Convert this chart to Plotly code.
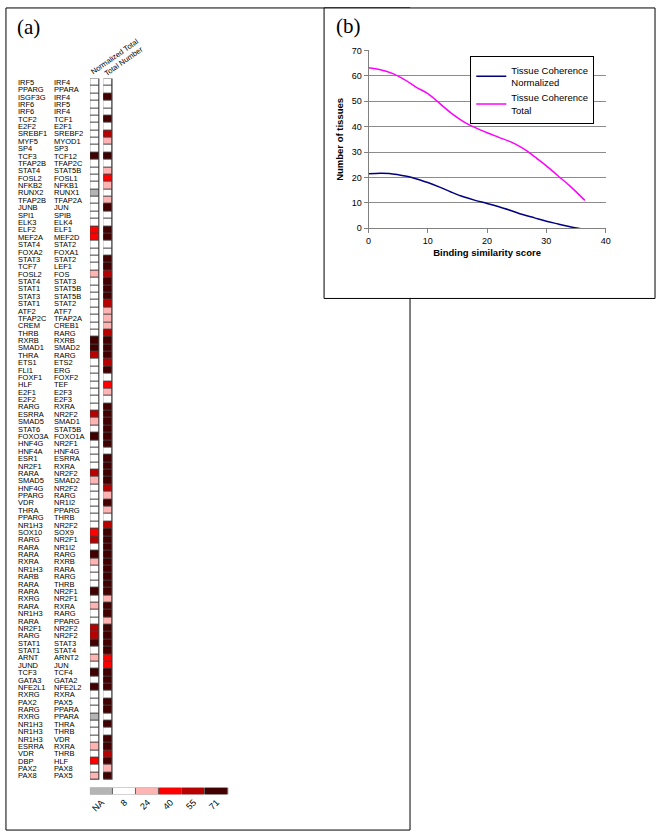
import plotly.graph_objects as go

W, H = 662, 839

# pairs of transcription factors, one row each
tf_first = ["IRF5", "PPARG", "ISGF3G", "IRF6", "IRF6", "TCF2", "E2F2", "SREBF1", "MYF5", "SP4",
            "TCF3", "TFAP2B", "STAT4", "FOSL2", "NFKB2", "RUNX2", "TFAP2B", "JUNB", "SPI1", "ELK3",
            "ELF2", "MEF2A", "STAT4", "FOXA2", "STAT3", "TCF7", "FOSL2", "STAT4", "STAT1", "STAT3",
            "STAT1", "ATF2", "TFAP2C", "CREM", "THRB", "RXRB", "SMAD1", "THRA", "ETS1", "FLI1",
            "FOXF1", "HLF", "E2F1", "E2F2", "RARG", "ESRRA", "SMAD5", "STAT6", "FOXO3A", "HNF4G",
            "HNF4A", "ESR1", "NR2F1", "RARA", "SMAD5", "HNF4G", "PPARG", "VDR", "THRA", "PPARG",
            "NR1H3", "SOX10", "RARG", "RARA", "RARA", "RXRA", "NR1H3", "RARB", "RARA", "RARA",
            "RXRG", "RARA", "NR1H3", "RARA", "NR2F1", "RARG", "STAT1", "STAT1", "ARNT", "JUND",
            "TCF3", "GATA3", "NFE2L1", "RXRG", "PAX2", "RARG", "RXRG", "NR1H3", "NR1H3", "NR1H3",
            "ESRRA", "VDR", "DBP", "PAX2", "PAX8"]
tf_second = ["IRF4", "PPARA", "IRF4", "IRF5", "IRF4", "TCF1", "E2F1", "SREBF2", "MYOD1", "SP3",
             "TCF12", "TFAP2C", "STAT5B", "FOSL1", "NFKB1", "RUNX1", "TFAP2A", "JUN", "SPIB", "ELK4",
             "ELF1", "MEF2D", "STAT2", "FOXA1", "STAT2", "LEF1", "FOS", "STAT3", "STAT5B", "STAT5B",
             "STAT2", "ATF7", "TFAP2A", "CREB1", "RARG", "RXRB", "SMAD2", "RARG", "ETS2", "ERG",
             "FOXF2", "TEF", "E2F3", "E2F3", "RXRA", "NR2F2", "SMAD1", "STAT5B", "FOXO1A", "NR2F1",
             "HNF4G", "ESRRA", "RXRA", "NR2F2", "SMAD2", "NR2F2", "RARG", "NR1I2", "PPARG", "THRB",
             "NR2F2", "SOX9", "NR2F1", "NR1I2", "RARG", "RXRB", "RARA", "RARG", "THRB", "NR2F1",
             "NR2F1", "RXRA", "RARG", "PPARG", "NR2F2", "NR2F2", "STAT3", "STAT4", "ARNT2", "JUN",
             "TCF4", "GATA2", "NFE2L2", "RXRA", "PAX5", "PPARA", "PPARA", "THRA", "THRB", "VDR",
             "RXRA", "THRB", "HLF", "PAX8", "PAX5"]

# colour class of each cell: 0=NA, 1=8, 2=24, 3=40, 4=55, 5=71
normalized_total = [1, 1, 1, 1, 1, 1, 1, 1, 1, 1,
                    5, 1, 1, 1, 1, 0, 1, 1, 1, 1,
                    3, 3, 1, 1, 1, 1, 2, 1, 1, 1,
                    1, 1, 1, 1, 1, 5, 5, 4, 1, 1,
                    1, 1, 1, 1, 1, 4, 2, 1, 5, 1,
                    1, 1, 1, 4, 2, 1, 1, 1, 1, 1,
                    1, 3, 4, 1, 5, 2, 1, 1, 1, 5,
                    1, 2, 1, 1, 4, 4, 5, 1, 2, 1,
                    5, 1, 5, 1, 1, 1, 0, 1, 1, 1,
                    2, 1, 3, 1, 2]
total_number = [1, 1, 5, 1, 1, 5, 1, 4, 2, 1,
                5, 1, 2, 3, 2, 1, 2, 5, 1, 1,
                5, 5, 1, 1, 5, 5, 4, 5, 5, 5,
                4, 2, 2, 2, 4, 5, 5, 5, 4, 5,
                1, 3, 2, 1, 5, 5, 5, 5, 5, 5,
                1, 5, 5, 5, 5, 4, 2, 5, 2, 1,
                4, 5, 5, 5, 5, 5, 5, 5, 5, 5,
                2, 5, 5, 2, 5, 5, 5, 5, 3, 3,
                5, 5, 5, 1, 5, 5, 1, 5, 1, 5,
                5, 4, 5, 2, 5]
column_names = ["Normalized Total", "Total Number"]

scale_labels = ["NA", "8", "24", "40", "55", "71"]
scale_colors = ["#b4b4b4", "#ffffff", "#ffb4b4", "#ff0000", "#b80000", "#420000"]

# panel (b)
score_total = [0, 2, 4, 6, 8, 10, 12, 14, 16, 18, 20, 22, 24, 26, 27, 28, 30, 32, 34, 36.5]
tissues_total = [63.2, 62.4, 61, 58.6, 55.6, 53, 49.2, 45.2, 42, 39.6, 37.6, 35.8, 34, 31.6, 30,
                 28.2, 24.6, 20.6, 16.6, 11]
score_norm = [0, 2, 3.5, 5, 7, 8, 10, 12, 14, 16, 18, 20, 22, 24, 26, 28, 30, 32, 34, 36]
tissues_norm = [21.5, 21.7, 21.6, 21.1, 20.2, 19.5, 18, 16.2, 14.2, 12.4, 11, 9.8, 8.5, 7,
                5.4, 4.1, 2.8, 1.7, 0.6, -0.3]


def px(x):
    return x / W


def py(y):
    return 1 - y / H


# discrete colour scale for the six classes
cscale = []
for i, c in enumerate(scale_colors):
    cscale.append([i / 6, c])
    cscale.append([(i + 1) / 6, c])

rows = list(range(len(tf_first)))
z = [[a, None, b] for a, b in zip(normalized_total, total_number)]

fig = go.Figure()

fig.add_trace(go.Heatmap(z=z, x=[0, 9, 14, 23], y=rows, colorscale=cscale, zmin=-0.5, zmax=5.5,
                         showscale=False, xgap=1, ygap=1, hoverinfo="skip",
                         xaxis="x", yaxis="y"))

fig.add_trace(go.Heatmap(z=[list(range(6))], x=list(range(6)), y=[0], colorscale=cscale,
                         zmin=-0.5, zmax=5.5, showscale=False, xgap=1, hoverinfo="skip",
                         xaxis="x2", yaxis="y2"))

fig.add_trace(go.Scatter(x=score_norm, y=tissues_norm, mode="lines", name="Tissue Coherence<br>Normalized",
                         line=dict(color="#000080", width=1.5, shape="spline"), xaxis="x3", yaxis="y3"))
fig.add_trace(go.Scatter(x=score_total, y=tissues_total, mode="lines", name="Tissue Coherence<br>Total",
                         line=dict(color="#ff00ff", width=1.5, shape="spline"), xaxis="x3", yaxis="y3"))

shapes = [
    # frame of panel (a)
    dict(type="rect", xref="paper", yref="paper", x0=px(3), x1=px(412), y0=py(835), y1=py(3),
         line=dict(color="black", width=1), layer="below"),
    # frame of panel (b), drawn over (a)
    dict(type="rect", xref="paper", yref="paper", x0=px(325), x1=px(660), y0=py(297), y1=py(3),
         line=dict(color="black", width=1), fillcolor="white", layer="below"),
    # cell borders behind the two columns
    dict(type="rect", xref="x", yref="y", x0=-0.5, x1=9.5, y0=-0.6, y1=len(rows) - 0.4,
         line=dict(width=0), fillcolor="#404040", layer="below"),
    dict(type="rect", xref="x", yref="y", x0=13.5, x1=23.5, y0=-0.6, y1=len(rows) - 0.4,
         line=dict(width=0), fillcolor="#404040", layer="below"),
    dict(type="rect", xref="x2", yref="y2", x0=-0.55, x1=5.55, y0=-0.55, y1=0.55,
         line=dict(width=0), fillcolor="#606060", layer="below"),
]

annotations = []
lab_font = dict(family="Liberation Sans, Arial", size=7.5, color="black")
for i in rows:
    annotations.append(dict(x=px(14), y=i, xref="paper", yref="y", text=tf_first[i], borderpad=0,
                            showarrow=False, xanchor="left", yanchor="middle", font=lab_font))
    annotations.append(dict(x=px(51), y=i, xref="paper", yref="y", text=tf_second[i], borderpad=0,
                            showarrow=False, xanchor="left", yanchor="middle", font=lab_font))

annotations.append(dict(x=px(86), y=py(74), xref="paper", yref="paper", text=column_names[0],
                        showarrow=False, xanchor="left", yanchor="bottom", textangle=-35,
                        borderpad=0, font=lab_font))
annotations.append(dict(x=px(99), y=py(75), xref="paper", yref="paper", text=column_names[1],
                        showarrow=False, xanchor="left", yanchor="bottom", textangle=-35,
                        borderpad=0, font=lab_font))
annotations.append(dict(x=px(12), y=py(8), xref="paper", yref="paper", text="(a)", showarrow=False,
                        xanchor="left", yanchor="top",
                        font=dict(family="Liberation Serif, Times New Roman", size=21, color="black")))
annotations.append(dict(x=px(335), y=py(7), xref="paper", yref="paper", text="(b)", showarrow=False,
                        xanchor="left", yanchor="top",
                        font=dict(family="Liberation Serif, Times New Roman", size=21, color="black")))

tick_font = dict(family="Liberation Sans, Arial", size=9, color="black")
title_font = dict(family="Liberation Sans, Arial", size=9.5, color="black", weight="bold")

fig.update_layout(
    width=W, height=H,
    margin=dict(l=0, r=0, t=0, b=0),
    paper_bgcolor="white", plot_bgcolor="white",
    shapes=shapes, annotations=annotations,
    xaxis=dict(domain=[px(88), px(111)], range=[-0.3, 23.3], visible=False, fixedrange=True),
    yaxis=dict(domain=[py(784), py(74.5)], range=[len(rows) - 0.5, -0.5], visible=False),
    xaxis2=dict(domain=[px(88), px(228)], range=[-0.5, 5.5], anchor="y2", showgrid=False,
                zeroline=False, showline=False, tickmode="array", tickvals=list(range(6)),
                ticktext=scale_labels, tickangle=-45, ticks="", tickfont=tick_font),
    yaxis2=dict(domain=[py(799), py(792)], range=[-0.5, 0.5], anchor="x2", visible=False),
    xaxis3=dict(domain=[px(370), px(610)], range=[0, 40], anchor="y3", showgrid=False,
                zeroline=False, showline=True, linecolor="#808080", linewidth=1,
                ticks="outside", ticklen=4, tickcolor="#808080", dtick=10, tickfont=tick_font,
                title=dict(text="Binding similarity score", font=title_font, standoff=4)),
    yaxis3=dict(domain=[py(226), py(46)], range=[0, 70], anchor="x3", showgrid=True,
                gridcolor="#8c8c8c", gridwidth=1, zeroline=False, showline=True,
                linecolor="#808080", linewidth=1, ticks="outside", ticklen=4, tickcolor="#808080",
                dtick=10, tickfont=tick_font,
                title=dict(text="Number of tissues", font=title_font, standoff=6)),
    showlegend=True,
    legend=dict(x=px(473), y=py(52), xanchor="left", yanchor="top", bgcolor="white",
                bordercolor="black", borderwidth=1, itemwidth=30,
                font=dict(family="Liberation Sans, Arial", size=9.5, color="black"),
                tracegroupgap=4),
)

# no page margin or scrollbars, so the figure sits at the window's top-left corner
page_fix = ("document.documentElement.style.margin='0px';"
            "document.documentElement.style.overflow='hidden';"
            "document.body.style.margin='0px';"
            "document.body.style.padding='0px';"
            "document.body.style.overflow='hidden';")
fig.write_html("out.html", post_script=page_fix, config={"displayModeBar": False})
